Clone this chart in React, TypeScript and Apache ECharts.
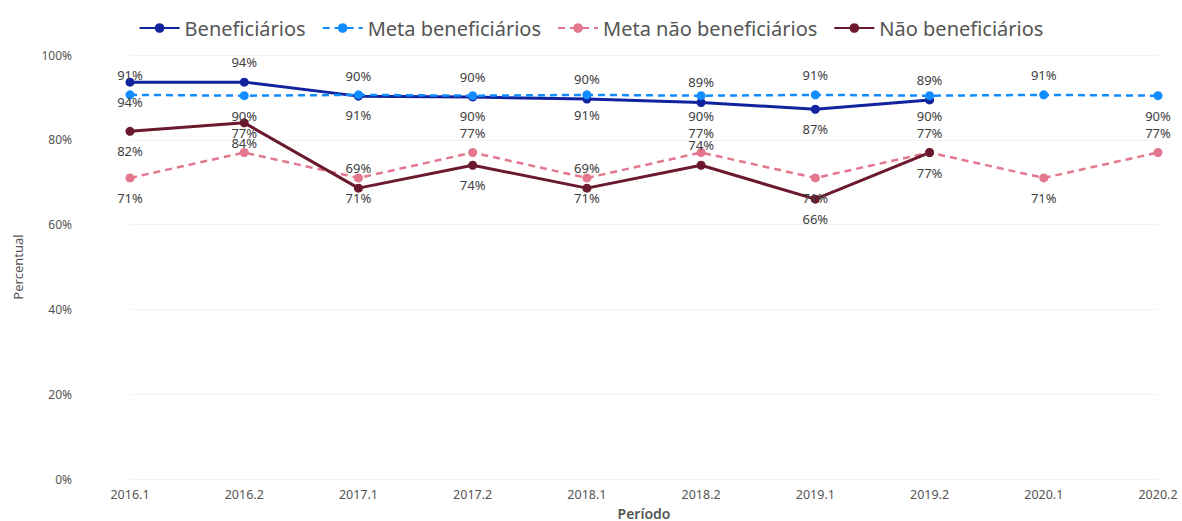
import React, { useEffect, useRef } from "react";
import * as echarts from "echarts";

const categories = ["2016.1", "2016.2", "2017.1", "2017.2", "2018.1", "2018.2", "2019.1", "2019.2", "2020.1", "2020.2"];
const beneficiarios = [93.6, 93.6, 90.3, 90.1, 89.6, 88.8, 87.2, 89.4, null, null];
const metaBeneficiarios = [90.6, 90.4, 90.6, 90.4, 90.6, 90.4, 90.6, 90.4, 90.6, 90.4];
const metaNaoBeneficiarios = [71, 77, 71, 77, 71, 77, 71, 77, 71, 77];
const naoBeneficiarios = [82, 84, 68.6, 74, 68.6, 74, 66, 77, null, null];
const yTicks = [0, 20, 40, 60, 80, 100];

// label placement per point (top / bottom)
const benefLabelPos = ["bottom", "top", "top", "top", "top", "top", "bottom", "top", "top", "top"];
const metaBenefLabelPos = ["top", "bottom", "bottom", "bottom", "bottom", "bottom", "top", "bottom", "top", "bottom"];
const metaNaoLabelPos = ["bottom", "top", "bottom", "top", "bottom", "top", "bottom", "top", "bottom", "top"];
const naoLabelPos = ["bottom", "bottom", "top", "bottom", "top", "top", "bottom", "bottom", "top", "top"];

const FONT = "Noto Sans";

function build(values: (number | null)[], pos: string[]) {
  return values.map((v, i) => (v === null ? null : { value: v, label: { position: pos[i] } }));
}

export default function App() {
  const ref = useRef<HTMLDivElement>(null);
  useEffect(() => {
    if (!ref.current) return;
    const chart = echarts.init(ref.current, undefined, { renderer: "svg" });
    const label = {
      show: true,
      distance: 9,
      fontSize: 13,
      fontFamily: FONT,
      color: "#404040",
      formatter: (p: any) => Math.round(p.value) + "%",
    };
    const mk = (name: string, data: any[], color: string, dashed: boolean, width: number) => ({
      name,
      type: "line",
      data,
      symbol: "circle",
      symbolSize: 9,
      itemStyle: { color },
      lineStyle: { color, width, type: dashed ? [7, 5] : "solid" },
      label,
      connectNulls: false,
    });
    chart.setOption({
      animation: false,
      textStyle: { fontFamily: FONT },
      legend: {
        top: 13,
        left: "center",
        itemWidth: 40,
        itemHeight: 12,
        itemGap: 16,
        textStyle: { fontSize: 20, color: "#555", fontFamily: FONT },
        data: ["Beneficiários", "Meta beneficiários", "Meta não beneficiários", "Não beneficiários"],
      },
      grid: { left: 130, right: 24, top: 55, bottom: 42, containLabel: false, outerBoundsMode: "none" },
      xAxis: {
        type: "category",
        data: categories,
        boundaryGap: false,
        axisLine: { show: false },
        axisTick: { show: false },
        axisLabel: { fontSize: 12.5, color: "#555", margin: 9, fontFamily: FONT },
        name: "Período",
        nameLocation: "middle",
        nameGap: 27,
        nameTextStyle: { fontSize: 14, color: "#555", fontWeight: 600, fontFamily: FONT },
      },
      yAxis: {
        type: "value",
        min: yTicks[0],
        max: yTicks[yTicks.length - 1],
        interval: 20,
        axisLabel: { fontSize: 12, color: "#555", margin: 58, formatter: "{value}%", fontFamily: FONT },
        splitLine: { lineStyle: { color: "#f3f3f3" } },
        name: "Percentual",
        nameLocation: "middle",
        nameGap: 106,
        nameTextStyle: { fontSize: 13, color: "#555", fontFamily: FONT },
      },
      series: [
        mk("Beneficiários", build(beneficiarios, benefLabelPos), "#12239e", false, 3),
        mk("Meta beneficiários", build(metaBeneficiarios, metaBenefLabelPos), "#118dff", true, 2.5),
        mk("Meta não beneficiários", build(metaNaoBeneficiarios, metaNaoLabelPos), "#e3778d", true, 2.5),
        mk("Não beneficiários", build(naoBeneficiarios, naoLabelPos), "#6b1a2e", false, 3),
      ],
    });
    return () => chart.dispose();
  }, []);
  return <div ref={ref} style={{ position: "absolute", left: 0, top: 0, width: 1182, height: 521 }} />;
}
